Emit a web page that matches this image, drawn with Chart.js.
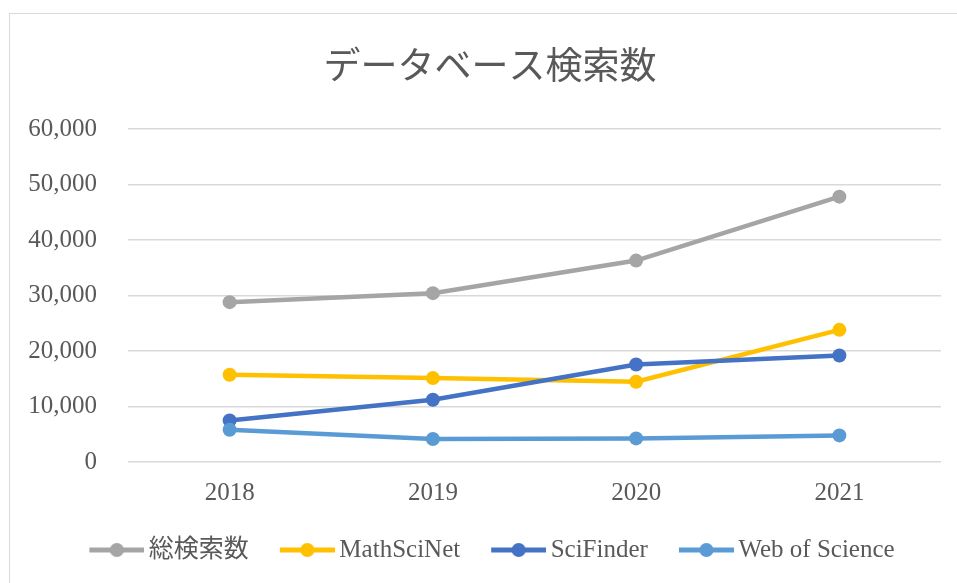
<!DOCTYPE html>
<html>
<head>
<meta charset="utf-8">
<script src="https://cdn.jsdelivr.net/npm/chart.js@4"></script>
<style>
  html, body { margin: 0; padding: 0; overflow: hidden; background: #fff; }
  #box {
    position: absolute; left: 9px; top: 13px;
    width: 960px; height: 584px;
    border: 1px solid #d9d9d9;
  }
</style>
</head>
<body>
<div id="box"><canvas id="chart" width="960" height="584"></canvas></div>
<script>
const years = ['2018', '2019', '2020', '2021'];
const seriesNames = ['総検索数', 'MathSciNet', 'SciFinder', 'Web of Science'];
const totalSearches = [28800, 30420, 36290, 47810];
const mathSciNet = [15710, 15120, 14450, 23810];
const sciFinder = [7490, 11210, 17570, 19190];
const webOfScience = [5810, 4140, 4250, 4790];
const colors = ['#a5a5a5', '#ffc000', '#4472c4', '#5b9bd5'];

const FONT = '"Liberation Serif", "Noto Sans CJK JP", serif';
const TEXT = '#595959';

// legend symbol: short line with a dot, placed in the right part of the image
function legendMark(color) {
    const c = document.createElement('canvas');
    c.width = 67;
    c.height = 16;
    const g = c.getContext('2d');
    g.strokeStyle = color;
    g.lineWidth = 5;
    g.beginPath();
    g.moveTo(12, 8);
    g.lineTo(67, 8);
    g.stroke();
    g.fillStyle = color;
    g.beginPath();
    g.arc(39.5, 8, 7, 0, Math.PI * 2);
    g.fill();
    return c;
}
const marks = colors.map(legendMark);

const values = [totalSearches, mathSciNet, sciFinder, webOfScience];
const datasets = values.map((v, i) => ({
    label: seriesNames[i],
    data: v,
    borderColor: colors[i],
    backgroundColor: colors[i],
    pointBackgroundColor: colors[i],
    pointBorderColor: colors[i],
    pointBorderWidth: 0,
    pointRadius: 7,
    pointHoverRadius: 7,
    pointStyle: 'circle',
    borderWidth: 4.5,
    tension: 0,
    order: values.length - i
}));

const ctx = document.getElementById('chart').getContext('2d');
new Chart(ctx, {
    type: 'line',
    data: { labels: years, datasets: datasets },
    options: {
        responsive: false,
        animation: false,
        layout: { padding: { left: 0, right: 0, top: 0, bottom: 25.5 } },
        plugins: {
            title: {
                display: true,
                text: 'データベース検索数',
                color: TEXT,
                font: { family: '"Noto Sans CJK JP", sans-serif', size: 37, weight: 'normal', lineHeight: 1.2 },
                padding: { top: 28.8, bottom: 41.8 }
            },
            legend: {
                position: 'bottom',
                labels: {
                    color: TEXT,
                    font: { family: FONT, size: 25 },
                    usePointStyle: true,
                    pointStyleWidth: 51,
                    padding: 27,
                    sort: (a, b) => a.datasetIndex - b.datasetIndex,
                    generateLabels: chart => Chart.defaults.plugins.legend.labels.generateLabels(chart).map(l => {
                        l.pointStyle = marks[l.datasetIndex];
                        return l;
                    })
                }
            },
            tooltip: { enabled: false }
        },
        scales: {
            x: {
                offset: true,
                grid: { display: false, drawTicks: false },
                border: { display: false },
                ticks: {
                    color: TEXT,
                    font: { family: FONT, size: 25 },
                    padding: 16
                },
                afterFit: s => { s.height = 48.5; }
            },
            y: {
                min: 0,
                max: 60000,
                grid: { color: '#d9d9d9', lineWidth: 1.5, drawTicks: false },
                border: { display: false },
                ticks: {
                    stepSize: 10000,
                    color: TEXT,
                    font: { family: FONT, size: 25 },
                    padding: 31,
                    callback: v => v.toLocaleString('en-US')
                },
                afterFit: s => { s.width = 118; }
            },
            // empty right-hand spacer so title and legend stay centred on the full width
            spacer: {
                type: 'linear',
                position: 'right',
                display: true,
                grid: { display: false, drawTicks: false },
                border: { display: false },
                ticks: { display: false },
                afterFit: s => { s.width = 29; }
            }
        }
    }
});
</script>
</body>
</html>
